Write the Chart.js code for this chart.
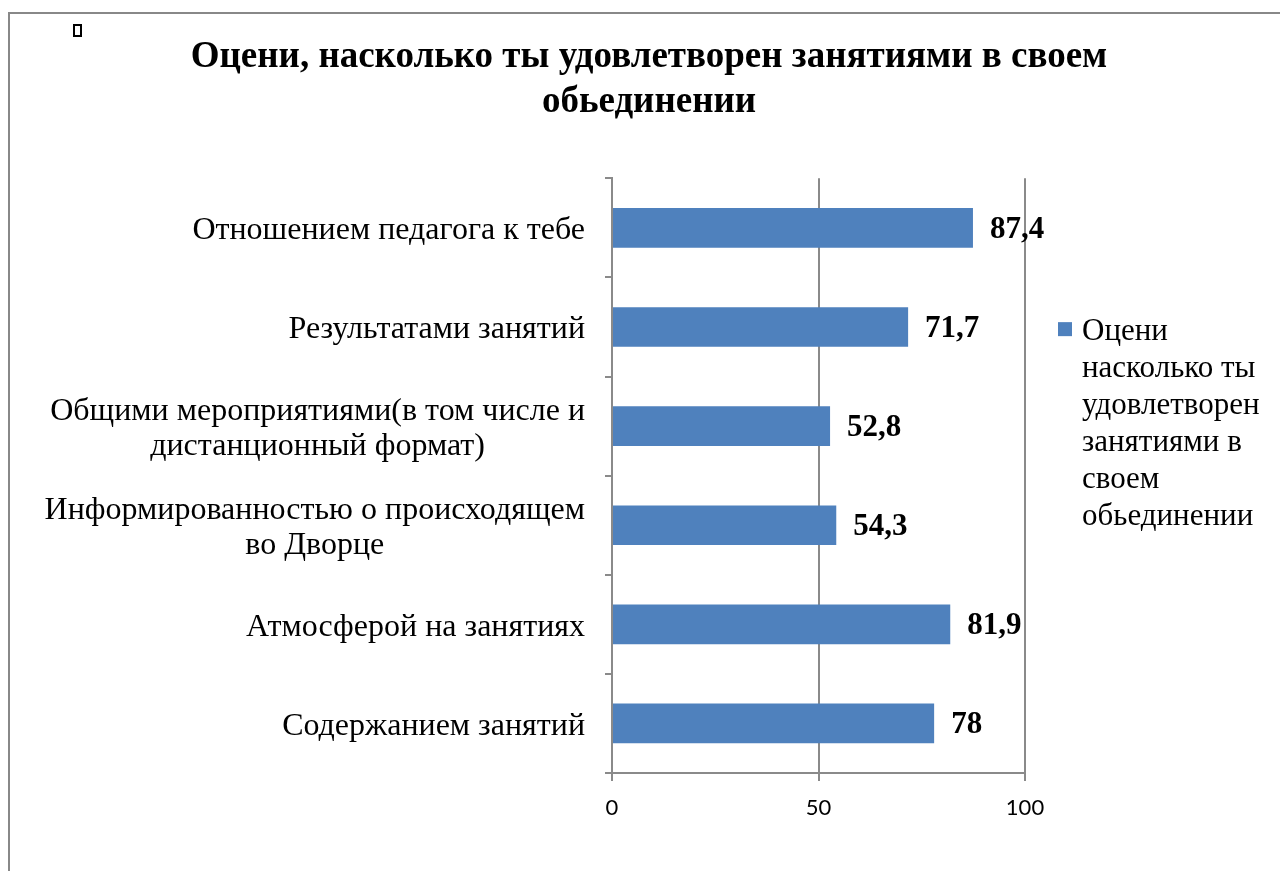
<!DOCTYPE html>
<html>
<head>
<meta charset="utf-8">
<script src="https://cdn.jsdelivr.net/npm/chart.js@4"></script>
<style>
  html, body { margin: 0; padding: 0; background: #fff; overflow: hidden; }
  #frame { position: absolute; left: 8px; top: 12px; width: 1300px; height: 900px; border: 2px solid #888; }
  #chartBox { position: absolute; left: 0; top: 0; width: 1278px; height: 860px; }
  #mark { position: absolute; left: 73px; top: 24px; width: 9px; height: 13px; border: 2px solid #000; box-sizing: border-box; }
</style>
</head>
<body>
<div id="frame">
  <div id="chartBox"><canvas id="satisfactionChart"></canvas></div>
</div>
<div id="mark"></div>
<script>
const categories = [
    'Отношением педагога к тебе',
    'Результатами занятий',
    ['Общими мероприятиями(в том числе и', 'дистанционный формат)'],
    ['Информированностью о происходящем', 'во Дворце'],
    'Атмосферой на занятиях',
    'Содержанием занятий'
];
const scores = [87.4, 71.7, 52.8, 54.3, 81.9, 78];
const xTicks = [0, 50, 100];
const seriesName = 'Оцени насколько ты удовлетворен занятиями в своем обьединении';
const legendLines = ['Оцени', 'насколько ты', 'удовлетворен', 'занятиями в', 'своем', 'обьединении'];
const titleLines = ['Оцени, насколько ты удовлетворен занятиями в своем', 'обьединении'];

const serif = '"Liberation Serif", "Times New Roman", serif';
const axisGrey = '#8a8a8a';

// y labels: block right-aligned, lines centered inside the block
const yLabelPlugin = {
    id: 'yLabels',
    afterDraw(chart) {
        const ctx = chart.ctx;
        const scale = chart.scales.y;
        const right = chart.chartArea.left - 27;
        ctx.save();
        ctx.font = '32px ' + serif;
        ctx.fillStyle = '#000';
        ctx.textBaseline = 'middle';
        ctx.textAlign = 'center';
        categories.forEach((label, i) => {
            const lines = Array.isArray(label) ? label : [label];
            const w = Math.max(...lines.map(l => ctx.measureText(l).width));
            const y = scale.getPixelForTick(i) + 3;
            lines.forEach((line, k) => {
                ctx.fillText(line, right - w / 2, y + (k - (lines.length - 1) / 2) * 35);
            });
        });
        ctx.restore();
    }
};

// value labels at the bar ends
const valueLabelPlugin = {
    id: 'valueLabels',
    afterDatasetsDraw(chart) {
        const ctx = chart.ctx;
        const meta = chart.getDatasetMeta(0);
        ctx.save();
        ctx.font = 'bold 31px ' + serif;
        ctx.fillStyle = '#000';
        ctx.textBaseline = 'middle';
        ctx.textAlign = 'left';
        meta.data.forEach((bar, i) => {
            ctx.fillText(String(scores[i]).replace('.', ','), bar.x + 17, bar.y + 2);
        });
        ctx.restore();
    }
};

// legend with wrapped text
const wrapLegendPlugin = {
    id: 'wrapLegend',
    afterDraw(chart) {
        const ctx = chart.ctx;
        const area = chart.chartArea;
        const lineH = 37;
        const firstY = (area.top + area.bottom) / 2 - 51 - 2.5 * lineH;
        ctx.save();
        ctx.fillStyle = chart.data.datasets[0].backgroundColor;
        ctx.fillRect(area.right + 33, firstY - 10, 14, 14);
        ctx.font = '31px ' + serif;
        ctx.fillStyle = '#000';
        ctx.textBaseline = 'middle';
        ctx.textAlign = 'left';
        legendLines.forEach((line, i) => {
            ctx.fillText(line, area.right + 57, firstY + i * lineH);
        });
        ctx.restore();
    }
};

const config = {
    type: 'bar',
    data: {
        labels: categories,
        datasets: [{
            label: seriesName,
            data: scores,
            backgroundColor: '#4F81BD',
            borderWidth: 0,
            barPercentage: 0.4,
            categoryPercentage: 1
        }]
    },
    options: {
        indexAxis: 'y',
        responsive: true,
        maintainAspectRatio: false,
        animation: false,
        layout: {
            padding: { left: 0, right: 0, top: 0, bottom: 41 }
        },
        plugins: {
            legend: { display: false },
            tooltip: { enabled: false },
            title: {
                display: true,
                text: titleLines,
                color: '#000',
                font: { family: serif, size: 37, weight: 'bold', lineHeight: 1.22 },
                padding: { top: 21, bottom: 53 }
            }
        },
        scales: {
            x: {
                min: 0,
                max: 100,
                afterBuildTicks(scale) {
                    scale.ticks = xTicks.map(v => ({ value: v }));
                },
                afterFit(scale) {
                    scale.height = 60;
                },
                grid: {
                    color: axisGrey,
                    lineWidth: 2,
                    tickLength: 8
                },
                border: { display: true, color: axisGrey, width: 2 },
                ticks: {
                    color: '#000',
                    padding: 14,
                    font: { family: 'Lato, "Open Sans", sans-serif', size: 22 }
                }
            },
            y: {
                afterFit(scale) {
                    scale.width = 602;
                },
                grid: {
                    offset: true,
                    drawOnChartArea: false,
                    color: axisGrey,
                    lineWidth: 2,
                    tickLength: 7
                },
                border: { display: true, color: axisGrey, width: 2 },
                ticks: {
                    color: 'transparent',
                    font: { family: serif, size: 32 }
                }
            },
            // empty right-hand axis that only keeps room for the legend
            legendSpace: {
                type: 'linear',
                position: 'right',
                afterFit(scale) {
                    scale.width = 263;
                },
                grid: { display: false },
                border: { display: false },
                ticks: { display: false }
            }
        }
    },
    plugins: [yLabelPlugin, valueLabelPlugin, wrapLegendPlugin]
};

const ctx = document.getElementById('satisfactionChart').getContext('2d');
const satisfactionChart = new Chart(ctx, config);
</script>
</body>
</html>
